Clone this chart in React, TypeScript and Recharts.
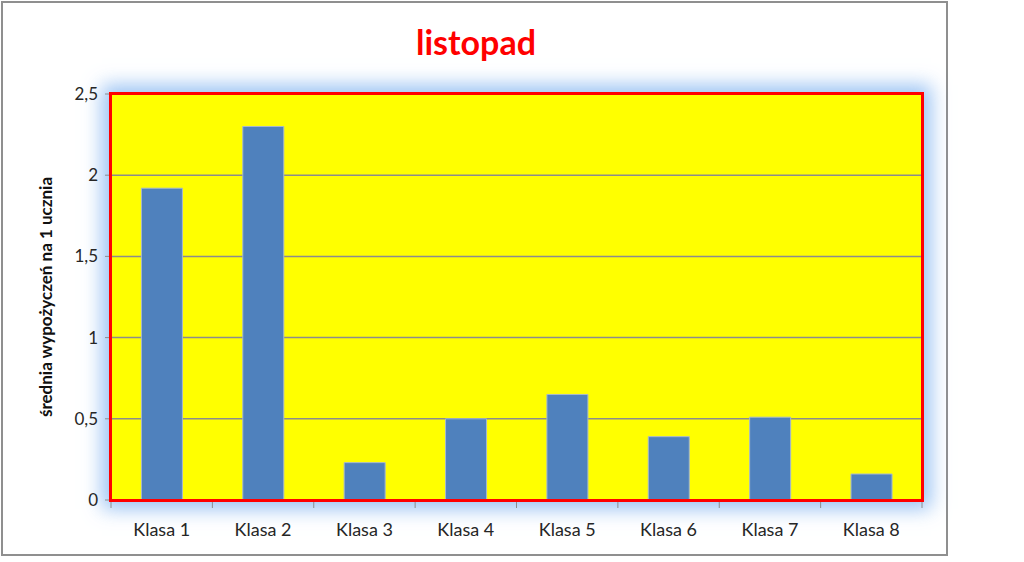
import { Bar, BarChart, CartesianGrid, XAxis, YAxis, Label } from 'recharts'

const categories = ['Klasa 1', 'Klasa 2', 'Klasa 3', 'Klasa 4', 'Klasa 5', 'Klasa 6', 'Klasa 7', 'Klasa 8']
const averages = [1.92, 2.3, 0.23, 0.5, 0.65, 0.39, 0.51, 0.16]
const yTicks = [0, 0.5, 1, 1.5, 2, 2.5]

const data = categories.map((name, i) => ({ name, value: averages[i] }))

const FONT = 'Lato, "Liberation Sans", sans-serif'
const CHART_W = 950
const CHART_H = 560
const MARGIN = { top: 94, right: 28, left: 51, bottom: 30 }
const Y_AXIS_W = 60
const X_AXIS_H = 30
const PLOT_LEFT = MARGIN.left + Y_AXIS_W
const PLOT_TOP = MARGIN.top
const PLOT_W = CHART_W - PLOT_LEFT - MARGIN.right
const PLOT_H = CHART_H - MARGIN.top - MARGIN.bottom - X_AXIS_H
const PLOT_BOTTOM = PLOT_TOP + PLOT_H
const BAND = PLOT_W / categories.length

function ClassTick(props: any) {
  const { x, payload, index } = props
  const last = index === categories.length - 1
  return (
    <g>
      <line x1={x - BAND / 2} x2={x - BAND / 2} y1={PLOT_BOTTOM} y2={PLOT_BOTTOM + 8} stroke="#8c8c8c" />
      {last && <line x1={x + BAND / 2} x2={x + BAND / 2} y1={PLOT_BOTTOM} y2={PLOT_BOTTOM + 8} stroke="#8c8c8c" />}
      <text x={x} y={PLOT_BOTTOM + 36} textAnchor="middle" fontSize={18} fill="#262626" fontFamily={FONT}>
        {payload.value}
      </text>
    </g>
  )
}

function YTitle(props: any) {
  const { viewBox } = props
  const cx = viewBox.x - 6
  const cy = viewBox.y + viewBox.height / 2
  return (
    <text
      x={cx}
      y={cy}
      transform={`rotate(-90, ${cx}, ${cy})`}
      textAnchor="middle"
      dominantBaseline="central"
      fontSize={17}
      fontWeight="bold"
      fill="#111"
      fontFamily={FONT}
    >
      średnia wypożyczeń na 1 ucznia
    </text>
  )
}

export default function App() {
  return (
    <div style={{ position: 'absolute', left: 0, top: 0, width: 1024, height: 562, background: '#fff' }}>
      <div
        style={{
          position: 'absolute',
          left: 1,
          top: 1,
          width: 947,
          height: 555,
          boxSizing: 'border-box',
          border: '2px solid #8f8f8f',
          background: '#fff',
        }}
      />
      <div
        style={{
          position: 'absolute',
          left: 0,
          top: 22,
          width: 952,
          textAlign: 'center',
          color: '#ff0000',
          fontFamily: FONT,
          fontWeight: 'bold',
          fontSize: 34,
          lineHeight: '40px',
        }}
      >
        listopad
      </div>
      <div
        style={{
          position: 'absolute',
          left: PLOT_LEFT,
          top: PLOT_TOP,
          width: PLOT_W,
          height: PLOT_H,
          background: '#ffff00',
          boxShadow: '0 0 18px 9px rgba(130, 180, 240, 0.8)',
        }}
      />
      <div style={{ position: 'absolute', left: 0, top: 0 }}>
        <BarChart width={CHART_W} height={CHART_H} data={data} margin={MARGIN} barCategoryGap="30%">
          <CartesianGrid vertical={false} stroke="#8c8c8c" strokeWidth={1.5} />
          <XAxis
            dataKey="name"
            height={X_AXIS_H}
            axisLine={{ stroke: '#8c8c8c' }}
            tickLine={false}
            interval={0}
            tick={<ClassTick />}
          />
          <YAxis
            width={Y_AXIS_W}
            domain={[0, 2.5]}
            ticks={yTicks}
            axisLine={{ stroke: '#8c8c8c' }}
            tickLine={{ stroke: '#8c8c8c' }}
            tickSize={6}
            tickMargin={7}
            tickFormatter={(v: number) => String(v).replace('.', ',')}
            tick={{ fontSize: 17, fill: '#262626', fontFamily: FONT }}
          >
            <Label content={<YTitle />} />
          </YAxis>
          <Bar dataKey="value" fill="#4f81bd" stroke="#a6b8cf" strokeWidth={1} isAnimationActive={false} />
        </BarChart>
      </div>
      <div
        style={{
          position: 'absolute',
          left: PLOT_LEFT - 2,
          top: PLOT_TOP - 2,
          width: PLOT_W + 4,
          height: PLOT_H + 4,
          boxSizing: 'border-box',
          border: '3px solid #ff0000',
          pointerEvents: 'none',
        }}
      />
    </div>
  )
}
